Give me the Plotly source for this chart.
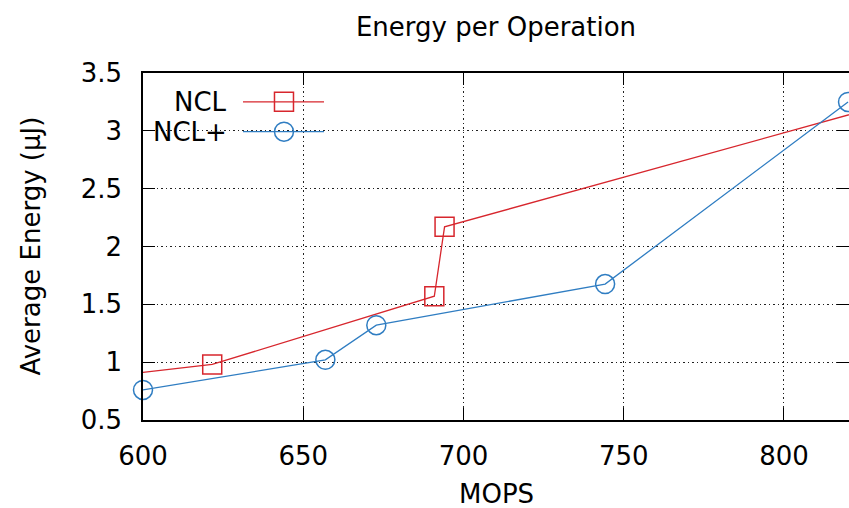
import plotly.graph_objects as go

# values
ncl_mops = [580, 621.6, 690.9, 694.1, 840]
ncl_energy = [0.85, 0.98, 1.57, 2.17, 3.29]

nclp_mops = [600, 656.9, 672.8, 744.2, 820]
nclp_energy = [0.76, 1.02, 1.32, 1.675, 3.25]

red = "#d7262d"
blue = "#2f7dc2"
font = "DejaVu Sans"
fsize = 26

fig = go.Figure()
fig.add_trace(go.Scatter(
    x=ncl_mops, y=ncl_energy, name="NCL", mode="lines+markers",
    line=dict(color=red, width=1.3),
    marker=dict(symbol="square-open", size=19, color=red, line=dict(width=1.5)),
    cliponaxis=True, showlegend=False,
))
fig.add_trace(go.Scatter(
    x=nclp_mops, y=nclp_energy, name="NCL+", mode="lines+markers",
    line=dict(color=blue, width=1.3),
    marker=dict(symbol="circle-open", size=19, color=blue, line=dict(width=1.5)),
    cliponaxis=False, showlegend=False,
))

axis_common = dict(
    showline=True, linecolor="black", linewidth=1.5, mirror="ticks",
    ticks="inside", ticklen=12, tickcolor="black", tickwidth=1.2,
    showgrid=True, gridcolor="#222", griddash="1.5px,3px", gridwidth=1.3,
    zeroline=False, tickfont=dict(family=font, size=fsize, color="black"),
    automargin=False,
)

fig.update_xaxes(range=[600, 820.3], dtick=50, ticklabelstandoff=12, **axis_common)
fig.update_yaxes(range=[0.5, 3.5], dtick=0.5, ticklabelstandoff=14, **axis_common)

# axis titles as annotations so the plot area stays fixed
fig.add_annotation(x=0.5, y=-0.212, xref="paper", yref="paper", text="MOPS",
                   showarrow=False, xanchor="center", yanchor="middle",
                   font=dict(family=font, size=fsize, color="black"))
fig.add_annotation(x=-0.16, y=0.5, xref="paper", yref="paper", text="Average Energy (μJ)",
                   showarrow=False, textangle=-90, xanchor="center", yanchor="middle",
                   font=dict(family=font, size=fsize, color="black"))

# gnuplot-style key: label on the left, sample on the right
key_rows = [("NCL", red, "rect", 0.917), ("NCL+", blue, "circle", 0.831)]
for label, col, shp, ky in key_rows:
    fig.add_annotation(x=0.122, y=ky, xref="paper", yref="paper", text=label,
                       showarrow=False, xanchor="right", yanchor="middle",
                       font=dict(family=font, size=fsize, color="black"))
    fig.add_shape(type="line", xref="paper", yref="paper", x0=0.1416, x1=0.2564,
                  y0=ky, y1=ky, line=dict(color=col, width=1.3))
    fig.add_shape(type=shp, xref="paper", yref="paper", xsizemode="pixel", ysizemode="pixel",
                  xanchor=0.1997, yanchor=ky, x0=-9.5, x1=9.5, y0=-9.5, y1=9.5,
                  line=dict(color=col, width=1.5), fillcolor="rgba(0,0,0,0)")

fig.update_layout(
    width=849, height=508,
    margin=dict(l=143, r=0, t=73, b=88),
    paper_bgcolor="white", plot_bgcolor="white",
    title=dict(text="Energy per Operation", x=0.5, xref="paper", xanchor="center",
               y=1 - 27 / 508, yref="container", yanchor="middle",
               font=dict(family=font, size=fsize, color="black")),
)

fig.write_html("out.html", config={"displayModeBar": False},
               post_script="document.body.style.margin='0';")
